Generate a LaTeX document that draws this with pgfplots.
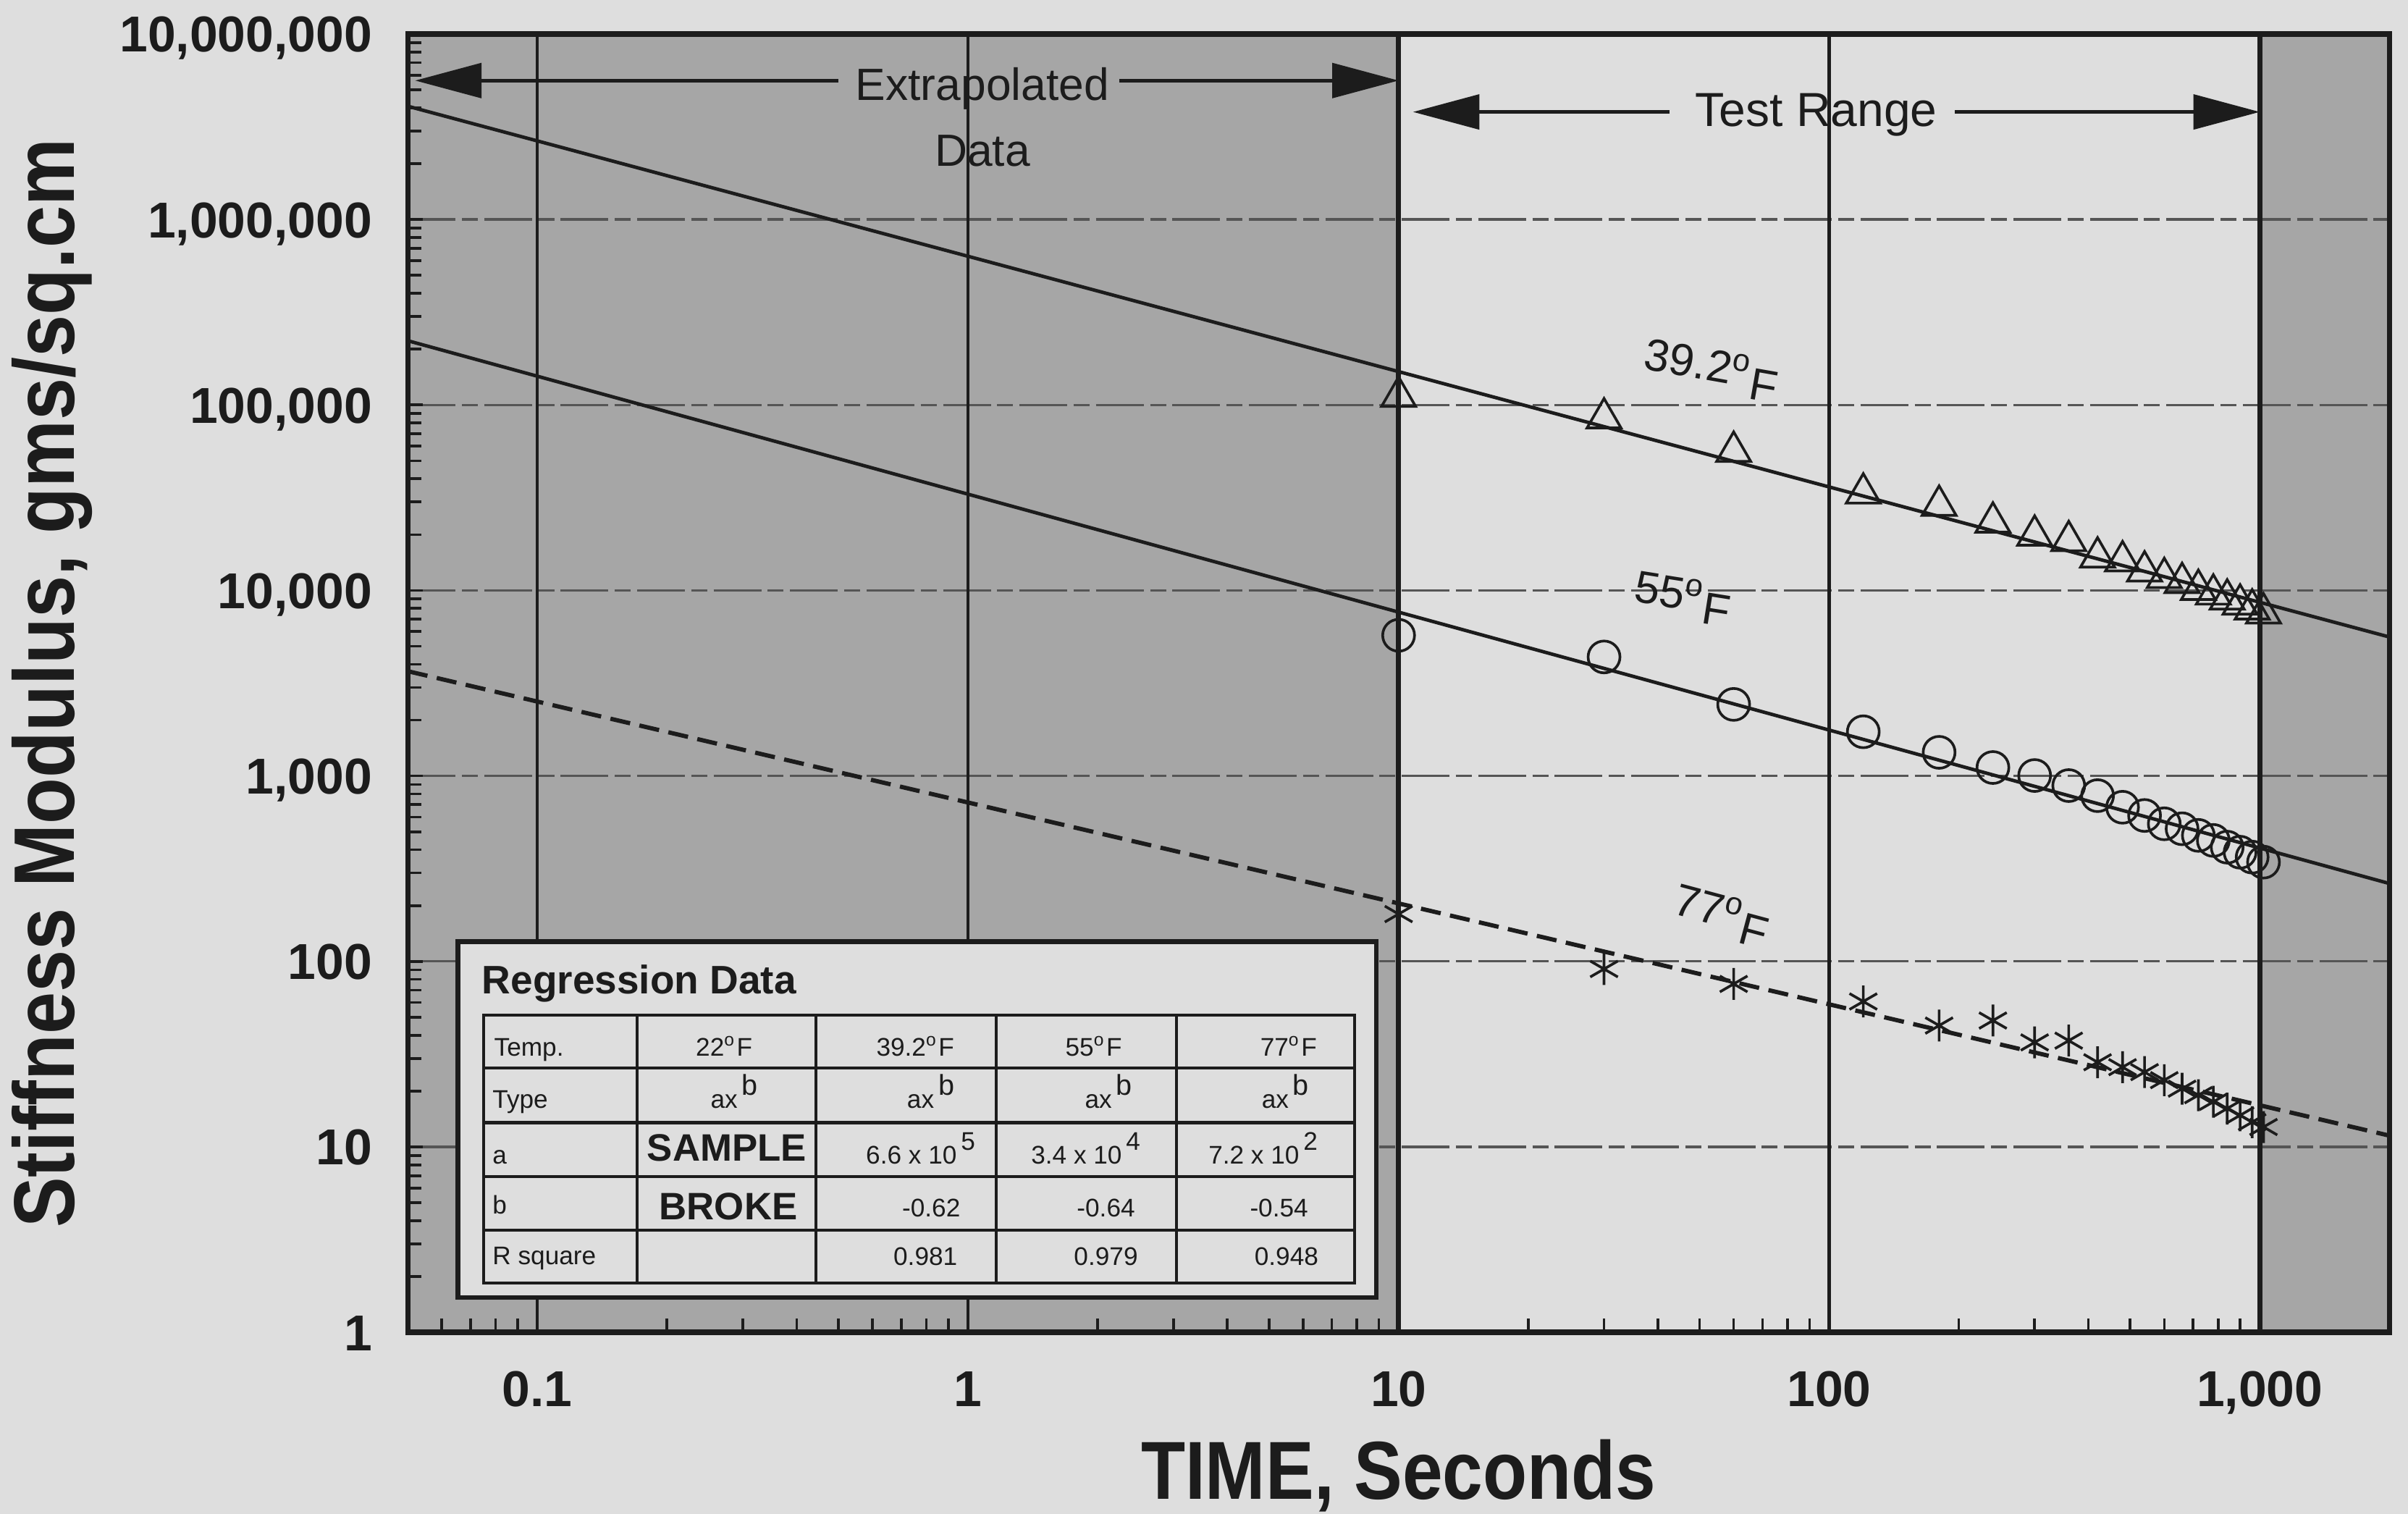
\documentclass[border=0pt]{standalone}
\usepackage{fontspec}
\setmainfont{Liberation Sans}
\newfontfamily\condfont[FakeStretch=0.88]{Liberation Sans}
\usepackage{pgfplots}
\pgfplotsset{compat=1.18}
\usetikzlibrary{arrows.meta}

\definecolor{bg}{RGB}{222,222,222}
\definecolor{shadegray}{RGB}{166,166,166}
\definecolor{ink}{RGB}{28,28,28}
\pagecolor{bg}

\tikzset{
  hgrid/.style={ink!75, line width=0.45pt, dash pattern=on 9pt off 1.2pt on 3pt off 1.2pt},
  vgrid/.style={ink, line width=0.6pt},
  arr/.style={ink, line width=0.7pt},
  head/.tip={Triangle[length=12.5pt,width=6.5pt]},
  templbl/.style={ink, font=\fontsize{8.5}{10}\selectfont},
}
\newcommand{\tf}{\fontsize{4.8}{5.5}\selectfont}

\begin{document}
\begin{tikzpicture}
\begin{axis}[
  name=ax, at={(0,0)}, anchor=south west,
  scale only axis, width=373.2pt, height=244.5pt,
  xmode=log, ymode=log,
  xmin=0.05, xmax=2000, ymin=1, ymax=1e7,
  axis on top,
  axis line style={line width=1pt, ink},
  tick pos=left, tick align=inside,
  xtick={0.1,1,10,100,1000},
  xticklabels={0.1,1,10,100,{1,000}},
  ytick={1,10,100,1000,10000,100000,1000000,10000000},
  yticklabels={1,10,100,{1,000},{10,000},{100,000},{1,000,000},{10,000,000}},
  minor xtick={0.06,0.07,0.08,0.09,0.2,0.3,0.4,0.5,0.6,0.7,0.8,0.9,2,3,4,5,6,7,8,9,20,30,40,50,60,70,80,90,200,300,400,500,600,700,800,900},
  minor ytick={2,3,4,5,6,7,8,9,20,30,40,50,60,70,80,90,200,300,400,500,600,700,800,900,
    2000,3000,4000,5000,6000,7000,8000,9000,20000,30000,40000,50000,60000,70000,80000,90000,
    200000,300000,400000,500000,600000,700000,800000,900000,
    2000000,3000000,4000000,5000000,6000000,7000000,8000000,9000000},
  major tick length=2.8pt, minor tick length=2.6pt,
  every tick/.style={ink, line width=0.5pt},
  tick label style={font=\bfseries\fontsize{9.5}{11}\selectfont, text=ink},
  xticklabel style={anchor=base, yshift=-14pt, inner sep=0pt},
  yticklabel style={anchor=base east, xshift=-6.5pt, yshift=-3.4pt, inner sep=0pt},
]
% shaded regions outside the test range
\fill[shadegray] (axis cs:0.05,1) rectangle (axis cs:10,1e7);
\fill[shadegray] (axis cs:1000,1) rectangle (axis cs:2000,1e7);

% grid
\draw[hgrid] (axis cs:0.05,10) -- (axis cs:2000,10);
\draw[hgrid] (axis cs:0.05,100) -- (axis cs:2000,100);
\draw[hgrid] (axis cs:0.05,1000) -- (axis cs:2000,1000);
\draw[hgrid] (axis cs:0.05,1e4) -- (axis cs:2000,1e4);
\draw[hgrid] (axis cs:0.05,1e5) -- (axis cs:2000,1e5);
\draw[hgrid] (axis cs:0.05,1e6) -- (axis cs:2000,1e6);
\draw[vgrid] (axis cs:0.1,1) -- (axis cs:0.1,1e7);
\draw[vgrid] (axis cs:1,1) -- (axis cs:1,1e7);
\draw[vgrid, line width=0.9pt] (axis cs:10,1) -- (axis cs:10,1e7);
\draw[vgrid] (axis cs:100,1) -- (axis cs:100,1e7);
\draw[vgrid, line width=0.9pt] (axis cs:1000,1) -- (axis cs:1000,1e7);

% regression lines
\addplot[ink, line width=0.65pt] coordinates {(0.05,4.08e6) (2000,5610)};
\addplot[ink, line width=0.65pt] coordinates {(0.05,2.22e5) (2000,263)};
\addplot[ink, line width=0.8pt, dash pattern=on 3.8pt off 1.8pt] coordinates {(0.05,3670) (2000,11.5)};

% 39.2 F
\addplot[only marks, mark=triangle, mark size=3.7pt, mark options={ink, line width=0.5pt}] coordinates {
(10,111000) (30,84900) (60,56100) (120,33400) (180,28700) (240,23300) (300,19800)
(360,18500) (420,15100) (480,14400) (540,12700) (600,11700) (660,11000) (720,10100)
(780,9530) (840,8960) (900,8420) (960,7920) (1020,7540)};
% 55 F
\addplot[only marks, mark=o, mark size=3pt, mark options={ink, line width=0.5pt}] coordinates {
(10,5730) (30,4380) (60,2430) (120,1730) (180,1340) (240,1110) (300,1005)
(360,887) (420,783) (480,678) (540,612) (600,552) (660,519) (720,478)
(780,449) (840,413) (900,388) (960,365) (1020,343)};
% 77 F
\addplot[only marks, mark=asterisk, mark size=3pt, mark options={ink, line width=0.5pt}] coordinates {
(10,180) (30,91) (60,75.6) (120,60.8) (180,45.1) (240,48) (300,36.6)
(360,37.4) (420,28.6) (480,26.9) (540,25.3) (600,22.9) (660,20.6) (720,19.0)
(780,17.5) (840,16.1) (900,14.8) (960,13.6) (1020,12.8)};

% range arrows
\draw[arr, head-] (axis cs:0.052,5.61e6) -- (axis cs:0.5,5.61e6);
\draw[arr, -head] (axis cs:2.25,5.61e6) -- (axis cs:10,5.61e6);
\node[anchor=base, inner sep=0pt, ink, font=\fontsize{8.5}{10}\selectfont] at (axis cs:1.08,4.38e6) {Extrapolated};
\node[anchor=base, inner sep=0pt, ink, font=\fontsize{8.5}{10}\selectfont] at (axis cs:1.08,1.94e6) {Data};
\draw[arr, head-] (axis cs:10.8,3.8e6) -- (axis cs:42.5,3.8e6);
\draw[arr, -head] (axis cs:196,3.8e6) -- (axis cs:1000,3.8e6);
\node[anchor=base, inner sep=0pt, ink, font=\fontsize{9}{10}\selectfont] at (axis cs:93.3,3.17e6) {Test Range};

% temperature labels
\node[templbl, rotate=-10] at (axis cs:53.2,1.534e5) {39.2\textsuperscript{o}\raisebox{-0.45ex}{F}};
\node[templbl, rotate=-9] at (axis cs:45.7,9020) {55\textsuperscript{o}\raisebox{-0.45ex}{F}};
\node[templbl, rotate=-15] at (axis cs:56.1,176) {77\textsuperscript{o}\raisebox{-0.45ex}{F}};

\coordinate (tbl) at (rel axis cs:0.0254,0.3009);
\end{axis}

% regression data box
\begin{scope}[shift={(tbl)}, x=1pt, y=-1pt, ink]
\fill[bg] (0,0) rectangle (172.9,67);
\draw[line width=0.9pt] (0,0) rectangle (172.9,67);
\node[anchor=base west, inner sep=0pt, font=\bfseries\fontsize{7.5}{9}\selectfont] at (4.3,9.75) {Regression Data};
\draw[line width=0.6pt] (4.8,13.8) rectangle (168.8,64.3);
\foreach \y in {23.8,34.1,44.2,54.3} \draw[line width=0.6pt] (4.8,\y) -- (168.8,\y);
\foreach \x in {33.7,67.4,101.3,135.3} \draw[line width=0.6pt] (\x,13.8) -- (\x,64.3);
\begin{scope}[every node/.style={anchor=base, inner sep=0pt, font=\tf}]
% first column
\node[anchor=base west] at (6.6,21.6) {Temp.};
\node[anchor=base west] at (6.3,31.3) {Type};
\node[anchor=base west] at (6.3,41.9) {a};
\node[anchor=base west] at (6.3,51.3) {b};
\node[anchor=base west] at (6.3,60.8) {R square};
% 22 F
\node at (50.1,21.6) {22\textsuperscript{o}F};
\node at (52.0,31.3) {ax\,\raisebox{2.4pt}{\fontsize{5.4}{6}\selectfont b}};
\node[font=\bfseries\fontsize{7.2}{8}\selectfont] at (50.6,41.3) {SAMPLE};
\node[font=\bfseries\fontsize{7.2}{8}\selectfont] at (50.9,52.3) {BROKE};
% 39.2 F
\node at (86.1,21.6) {39.2\textsuperscript{o}F};
\node at (89.0,31.3) {ax\,\raisebox{2.4pt}{\fontsize{5.4}{6}\selectfont b}};
\node at (87.1,41.9) {6.6 x 10\,\raisebox{2.6pt}{5}};
\node at (89.1,51.8) {-0.62};
\node at (88.0,61.0) {0.981};
% 55 F
\node at (119.7,21.6) {55\textsuperscript{o}F};
\node at (122.5,31.3) {ax\,\raisebox{2.4pt}{\fontsize{5.4}{6}\selectfont b}};
\node at (118.2,41.9) {3.4 x 10\,\raisebox{2.6pt}{4}};
\node at (122.0,51.8) {-0.64};
\node at (122.0,61.0) {0.979};
% 77 F
\node at (156.4,21.6) {77\textsuperscript{o}F};
\node at (155.8,31.3) {ax\,\raisebox{2.4pt}{\fontsize{5.4}{6}\selectfont b}};
\node at (151.6,41.9) {7.2 x 10\,\raisebox{2.6pt}{2}};
\node at (154.6,51.8) {-0.54};
\node at (156.0,61.0) {0.948};
\end{scope}
\end{scope}

% axis titles
\node[rotate=90, ink, font=\condfont\bfseries\fontsize{16.2}{18}\selectfont] at ([xshift=-67pt]ax.west) {Stiffness Modulus, gms/sq.cm};
\node[anchor=base, ink, font=\condfont\bfseries\fontsize{15.5}{17}\selectfont] at ([yshift=-31.4pt]ax.south) {TIME, Seconds};

\pgfresetboundingbox
\path ([shift={(-76.8pt,-34.2pt)}]ax.south west) rectangle ([shift={(3.5pt,6.4pt)}]ax.north east);
\end{tikzpicture}
\end{document}
